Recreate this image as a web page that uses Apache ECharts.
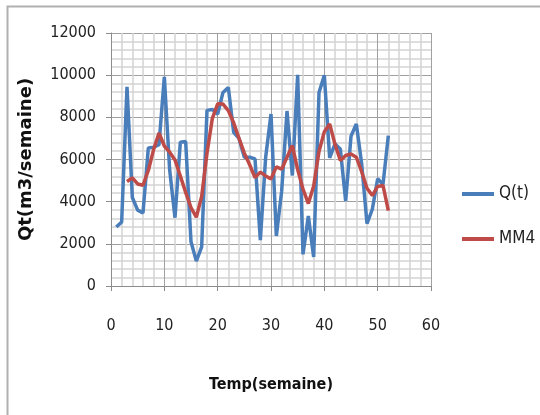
<!DOCTYPE html>
<html>
<head>
<meta charset="utf-8">
<script src="https://cdn.jsdelivr.net/npm/echarts@6/dist/echarts.min.js"></script>
<style>html,body{margin:0;padding:0;background:#fff}#c{width:540px;height:415px}</style>
</head>
<body>
<div id="c"></div>
<script>
const weeks = [1,2,3,4,5,6,7,8,9,10,11,12,13,14,15,16,17,18,19,20,21,22,23,24,25,26,27,28,29,30,31,32,33,34,35,36,37,38,39,40,41,42,43,44,45,46,47,48,49,50,51,52];
const qt = [2800,3040,9450,4200,3600,3470,6550,6580,6700,9920,5500,3240,6820,6850,2100,1180,1860,8330,8370,8150,9180,9420,7290,7000,6110,6110,6030,2180,6110,8160,2370,4500,8300,5240,10020,1500,3320,1380,9180,9990,6080,6740,6500,4030,7100,7690,5800,2960,3640,5090,4820,7130];
const mm4Weeks = [3,4,5,6,7,8,9,10,11,12,13,14,15,16,17,18,19,20,21,22,23,24,25,26,27,28,29,30,31,32,33,34,35,36,37,38,39,40,41,42,43,44,45,46,47,48,49,50,51,52];
const mm4 = [4960,5130,4840,4780,5480,6480,7260,6640,6350,5980,5220,4440,3720,3260,4250,6300,7950,8640,8630,8320,7740,7000,6300,5750,5140,5400,5220,5080,5650,5540,6110,6660,5520,4600,3910,4740,6380,7320,7690,6720,5950,6190,6260,6110,5420,4640,4290,4720,4770,3570];
const xTicks = {min:0, max:60, interval:10};
const yTicks = {min:0, max:12000, interval:2000};

const font = "'Liberation Sans Narrow','DejaVu Sans Condensed','Liberation Sans',sans-serif";
const plain = v => String(v);
const chart = echarts.init(document.getElementById('c'), null, {renderer:'canvas'});
chart.setOption({
  animation:false,
  backgroundColor:'#fff',
  graphic:[{type:'rect', left:5, top:4, shape:{width:600, height:500}, style:{fill:'none', stroke:'#b0b0b0', lineWidth:2}, silent:true}],
  grid:{left:111, top:33, right:109, bottom:129},
  legend:{
    orient:'vertical', left:457, top:179, itemGap:25, icon:'rect', itemWidth:32, itemHeight:4,
    textStyle:{fontFamily:font, fontSize:17, lineHeight:20, color:'#222'},
    data:['Q(t)','MM4']
  },
  xAxis:{
    type:'value', min:xTicks.min, max:xTicks.max, interval:xTicks.interval,
    name:'Temp(semaine)', nameLocation:'middle', nameGap:91,
    nameTextStyle:{fontFamily:font, fontSize:16, fontWeight:'bold', color:'#111'},
    axisLine:{show:true, lineStyle:{color:'#8c8c8c', width:1}},
    axisTick:{show:true, length:5, lineStyle:{color:'#8c8c8c'}},
    axisLabel:{margin:32, fontFamily:font, fontSize:16, color:'#222', formatter:plain},
    splitLine:{show:true, lineStyle:{color:'#a0a0a0', width:1}},
    minorTick:{show:false, splitNumber:5},
    minorSplitLine:{show:true, lineStyle:{color:'#d4d4d4', width:1.5}}
  },
  yAxis:{
    type:'value', min:yTicks.min, max:yTicks.max, interval:yTicks.interval,
    name:'Qt(m3/semaine)', nameLocation:'middle', nameGap:76, nameRotate:90,
    nameTextStyle:{fontFamily:"'DejaVu Sans','Liberation Sans',sans-serif", fontSize:18, fontWeight:'bold', color:'#111'},
    axisLine:{show:true, lineStyle:{color:'#8c8c8c', width:1}},
    axisTick:{show:true, length:5, lineStyle:{color:'#8c8c8c'}},
    axisLabel:{margin:15, fontFamily:font, fontSize:16, color:'#222', formatter:plain},
    splitLine:{show:true, lineStyle:{color:'#a0a0a0', width:1}},
    minorTick:{show:false, splitNumber:5},
    minorSplitLine:{show:true, lineStyle:{color:'#d4d4d4', width:1.5}}
  },
  series:[
    {name:'Q(t)', type:'line', data:weeks.map((w,i)=>[w,qt[i]]), showSymbol:false, symbol:'none',
     lineStyle:{color:'#4A7EBB', width:3.5}, itemStyle:{color:'#4A7EBB'}},
    {name:'MM4', type:'line', data:mm4Weeks.map((w,i)=>[w,mm4[i]]), showSymbol:false, symbol:'none',
     lineStyle:{color:'#BE4B48', width:3.5}, itemStyle:{color:'#BE4B48'}}
  ]
});
</script>
</body>
</html>
